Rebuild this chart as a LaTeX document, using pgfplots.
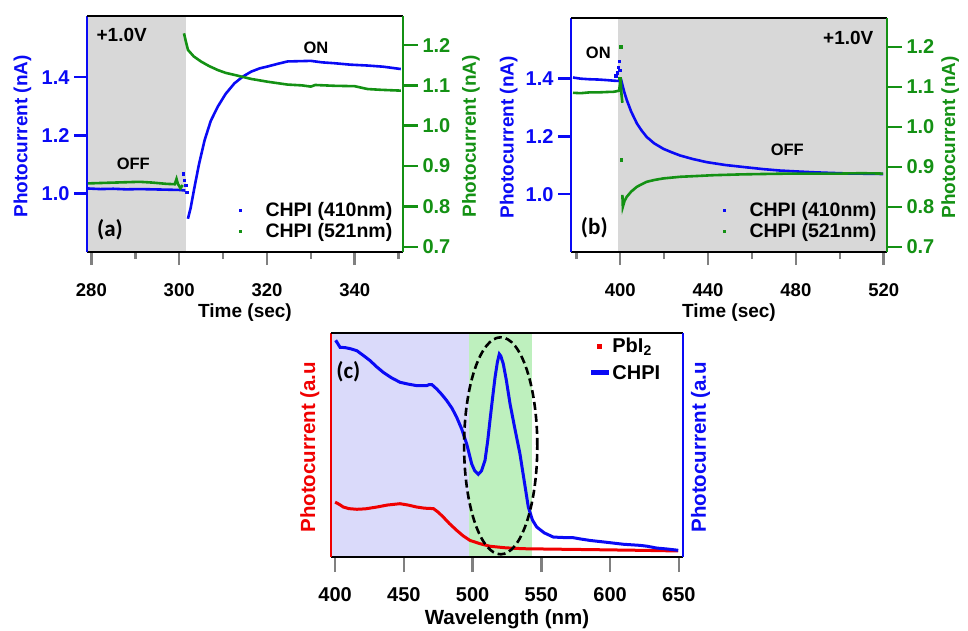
\documentclass[border=0pt]{standalone}
\usepackage{fontspec}
\setmainfont{Liberation Sans}
\newfontfamily\calib{Carlito}
\usepackage{pgfplots}
\pgfplotsset{compat=1.18}

\definecolor{cblue}{RGB}{10,10,245}
\definecolor{cgreen}{RGB}{20,145,20}
\definecolor{cred}{RGB}{240,0,0}
\definecolor{shgray}{RGB}{216,216,216}
\definecolor{shlav}{RGB}{218,218,250}
\definecolor{shgreen}{RGB}{190,240,190}

\newcommand{\fs}[1]{\bfseries\fontsize{#1}{#1}\selectfont}

\pgfplotsset{
  base/.style={scale only axis, anchor=south west, axis on top,
    tick align=outside, major tick length=13pt, minor tick length=7pt,
    axis line style={line width=2.5pt}, tick style={line width=2.5pt},
    /pgf/number format/assume math mode=true,
    xticklabel style={font=\fs{18.5}}, yticklabel style={font=\fs{20}},
    xticklabel shift=15pt, yticklabel shift=1pt,
    every axis x label/.style={at={(axis description cs:0.5,-0.258)}, anchor=center, font=\fs{19}},
  },
  ylab/.style={every axis y label/.style={at={(axis description cs:#1,0.49)}, rotate=90, anchor=center, font=\fs{19}}},
  dec/.style={/pgf/number format/.cd, fixed, fixed zerofill, precision=1},
  sq/.style={legend image code/.code={\fill[#1, draw=none] (-1.4pt,-1.4pt) rectangle (1.4pt,1.4pt); \path[draw=none, fill=none] (0,0) -- (24pt,0);}},
  curve/.style={no markers, line width=2.6pt, forget plot},
  dots/.style={only marks, mark=square*, mark size=1.2pt, forget plot},
  leg/.style={legend style={draw=none, fill=none, at={(rel axis cs:0.97,0.05)}, anchor=south east,
    inner sep=0pt, row sep=3pt, font=\fs{19.5}, nodes={inner sep=1pt}}, legend cell align=left},
}

\begin{document}
\begin{tikzpicture}
\path[use as bounding box] (0,0) rectangle (968pt,630pt);

% ---------------- (a)
\begin{axis}[base, at={(87pt,378pt)}, width=316pt, height=236pt,
  xmin=279, xmax=351, ymin=0.80, ymax=1.61,
  axis x line*=bottom, axis y line*=left,
  x axis line style={black}, y axis line style={cblue},
  xtick={280,300,320,340}, minor xtick={290,310,330,350},
  ytick={1.0,1.2,1.4}, y tick style={cblue},
  yticklabel style={text=cblue, dec},
  xlabel={Time (sec)}, ylabel={Photocurrent (nA)}, ylab=-0.204, ylabel style={text=cblue}]
  \fill[shgray] (axis cs:279,0.80) rectangle (axis cs:301.6,1.61);
  \addplot[curve, cblue] coordinates {
    (279.2,1.018) (282,1.016) (285,1.017) (288,1.015) (291,1.016) (294,1.015)
    (297,1.014) (300,1.013) (301.4,1.011)};
  \addplot[dots, cblue] coordinates {(300.9,1.069) (301.1,1.046) (301.5,1.030) (301.7,1.005)};
  \addplot[curve, cblue] coordinates {
    (302.0,0.914) (302.6,0.950) (303.5,1.023) (304.5,1.100) (305.8,1.184) (307.2,1.250)
    (308.8,1.299) (310.6,1.343) (312.6,1.379) (314.5,1.402) (316.4,1.419) (318.3,1.430)
    (320.2,1.437) (322.5,1.446) (324.7,1.454) (327.3,1.455) (330.0,1.456) (332.5,1.451)
    (335.3,1.448) (339,1.443) (342.9,1.440) (346.5,1.436) (350.5,1.428)};
\end{axis}
\begin{axis}[base, at={(87pt,378pt)}, width=316pt, height=236pt,
  xmin=279, xmax=351, ymin=0.687, ymax=1.272,
  axis x line*=top, xtick=\empty, axis y line*=right,
  x axis line style={black}, y axis line style={cgreen},
  ytick={0.7,0.8,0.9,1.0,1.1,1.2}, y tick style={cgreen}, major tick length=15pt,
  yticklabel style={text=cgreen, dec},
  ylabel={Photocurrent (nA)}, ylab=1.215, ylabel style={text=cgreen}, leg]
  \addplot[curve, cgreen] coordinates {
    (279.2,0.857) (282,0.858) (285,0.859) (288,0.860) (291,0.861) (294,0.859)
    (297,0.856) (299,0.855) (299.4,0.868) (299.7,0.856) (300.3,0.845) (300.8,0.853)};
  \addplot[curve, cgreen] coordinates {
    (301.1,1.229) (301.5,1.210) (302.0,1.188) (303.3,1.172) (305.0,1.159) (306.8,1.148)
    (308.8,1.138) (310.6,1.131) (312.6,1.126) (314.5,1.121) (316.4,1.116) (320.2,1.109)
    (324.7,1.102) (328,1.100) (330,1.097) (331,1.101) (335.3,1.099) (340,1.098)
    (342.9,1.091) (346,1.089) (350.5,1.087)};
  \addlegendimage{sq=cblue}
  \addlegendentry{CHPI (410nm)}
  \addlegendimage{sq=cgreen}
  \addlegendentry{CHPI (521nm)}
\end{axis}

% ---------------- (b)
\begin{axis}[base, at={(571pt,378pt)}, width=316pt, height=234pt,
  xmin=377.6, xmax=521.5, ymin=0.80, ymax=1.61,
  axis x line*=bottom, axis y line*=left,
  x axis line style={black}, y axis line style={cblue},
  xtick={400,440,480,520}, minor xtick={380,420,460,500},
  ytick={1.0,1.2,1.4}, y tick style={cblue},
  yticklabel style={text=cblue, dec},
  xlabel={Time (sec)}, ylabel={Photocurrent (nA)}, ylab=-0.197, ylabel style={text=cblue}]
  \fill[shgray] (axis cs:399.2,0.80) rectangle (axis cs:521.5,1.61);
  \addplot[curve, cblue] coordinates {
    (378.5,1.404) (382,1.400) (386,1.398) (390,1.397) (394,1.395) (397,1.393) (399.5,1.392)};
  \addplot[dots, cblue] coordinates {(398,1.41) (398.5,1.42) (399,1.44) (399.5,1.46) (399.8,1.43)};
  \addplot[curve, cblue] coordinates {
    (400.3,1.400) (400.8,1.385) (401.8,1.355) (403,1.326) (405,1.286) (407.6,1.245)
    (409.8,1.220) (412.1,1.198) (415.5,1.176) (419.7,1.157) (423.5,1.145) (427.3,1.134)
    (433,1.122) (439.4,1.111) (448,1.101) (457.6,1.093) (465,1.087) (472.7,1.082)
    (480,1.079) (487.9,1.076) (495,1.074) (503,1.072) (511,1.071) (519.7,1.070)};
\end{axis}
\begin{axis}[base, at={(571pt,378pt)}, width=316pt, height=234pt,
  xmin=377.6, xmax=521.5, ymin=0.687, ymax=1.272,
  axis x line*=top, xtick=\empty, axis y line*=right,
  x axis line style={black}, y axis line style={cgreen},
  ytick={0.7,0.8,0.9,1.0,1.1,1.2}, y tick style={cgreen}, major tick length=15pt,
  yticklabel style={text=cgreen, dec},
  ylabel={Photocurrent (nA)}, ylab=1.20, ylabel style={text=cgreen}, leg]
  \addplot[curve, cgreen] coordinates {
    (378.5,1.085) (382,1.084) (386,1.086) (390,1.086) (394,1.087) (397,1.0875)
    (399.5,1.090) (400.2,1.12) (400.6,1.08) (401,1.06)};
  \addplot[dots, cgreen] coordinates {(400.3,1.20) (400.5,0.918) (399.8,1.121)};
  \addplot[curve, cgreen] coordinates {
    (401.0,0.830) (401.2,0.800) (402,0.815) (403,0.825) (405,0.838) (407.6,0.850)
    (410,0.857) (412.1,0.8625) (415.5,0.867) (419.7,0.871) (427.3,0.875) (435,0.877)
    (442.4,0.879) (455,0.881) (465.2,0.882) (477,0.883) (487.9,0.883) (500,0.883)
    (510,0.884) (519.7,0.883)};
  \addlegendimage{sq=cblue}
  \addlegendentry{CHPI (410nm)}
  \addlegendimage{sq=cgreen}
  \addlegendentry{CHPI (521nm)}
\end{axis}

% ---------------- (c)
\begin{axis}[base, at={(331pt,73pt)}, width=352pt, height=224pt,
  xmin=397, xmax=653, ymin=0, ymax=1,
  axis x line*=bottom, axis y line*=left,
  x axis line style={black}, y axis line style={cred},
  major tick length=15pt,
  xtick={400,450,500,550,600,650}, ytick=\empty,
  xticklabel style={font=\fs{20}}, xticklabel shift=12pt,
  every axis x label/.style={at={(axis description cs:0.5,-0.28)}, anchor=center, font=\fs{20.5}},
  xlabel={Wavelength (nm)}, ylabel={Photocurrent (a.u}, ylab=-0.06,
  ylabel style={text=cred, font=\fs{20.5}}]
  \fill[shlav] (axis cs:397,0) rectangle (axis cs:497,1);
  \fill[shgreen] (axis cs:497,0) rectangle (axis cs:543.4,1);
  \addplot[no markers, line width=3pt, cred, forget plot] coordinates {
    (400,0.245) (403,0.235) (406,0.223) (410,0.216) (415.8,0.213) (422,0.215)
    (430.3,0.223) (438,0.232) (447.2,0.238) (453,0.232) (459.4,0.223) (465,0.218)
    (471.5,0.216) (475,0.200) (478.7,0.178) (483,0.150) (488.4,0.119) (493,0.095)
    (498.1,0.074) (505,0.060) (512.6,0.048) (524,0.041) (536.8,0.037) (560,0.035)
    (585.3,0.033) (620,0.030) (649.5,0.027)};
\end{axis}
\begin{axis}[base, at={(331pt,73pt)}, width=352pt, height=224pt,
  xmin=397, xmax=653, ymin=0, ymax=1,
  axis x line*=top, xtick=\empty, axis y line*=right, ytick=\empty,
  x axis line style={black}, y axis line style={cblue},
  ylabel={Photocurrent (a.u}, ylab=1.05, ylabel style={text=cblue, font=\fs{20.5}},
  legend style={draw=none, fill=none, at={(rel axis cs:0.94,0.985)}, anchor=north east,
    inner sep=0pt, row sep=8pt, font=\fs{20}, nodes={inner sep=1.5pt}},
  legend cell align=left]
  \addplot[no markers, line width=3pt, cblue, forget plot] coordinates {
    (400,0.958) (401,0.962) (403.6,0.936) (407,0.935) (411,0.930) (415.8,0.921)
    (420,0.902) (425.4,0.877) (430,0.850) (435.1,0.824) (441,0.800) (447.2,0.780)
    (453,0.772) (459.4,0.765) (466.6,0.765) (468.5,0.770) (470.3,0.770) (473.9,0.750)
    (477.5,0.726) (481.2,0.698) (485,0.664) (488.4,0.624) (492,0.572) (495.7,0.505)
    (497.5,0.460) (499.3,0.416) (501.5,0.385) (504.1,0.369) (506.5,0.385) (509,0.431)
    (511,0.520) (512.6,0.609) (514.5,0.710) (516.3,0.802) (518,0.870) (519.4,0.906)
    (520.5,0.897) (522.3,0.862) (524.5,0.790) (527.2,0.684) (530.5,0.580) (534.4,0.461)
    (537.5,0.340) (540.5,0.223) (543.5,0.165) (546.6,0.134) (552,0.108) (558.7,0.089)
    (566,0.087) (573.3,0.086) (579,0.080) (585.3,0.074) (597,0.066) (609.5,0.057)
    (621.7,0.052) (627,0.048) (633.8,0.040) (641,0.036) (649.5,0.030)};
  \addlegendimage{legend image code/.code={\fill[cred, draw=none] (6.5pt,-2.5pt) rectangle (11.5pt,2.5pt); \path[draw=none, fill=none] (0,0) -- (20pt,0);}}
  \addlegendentry{PbI\textsubscript{2}}
  \addlegendimage{legend image code/.code={\fill[cblue, draw=none] (0,-2.5pt) rectangle (18pt,2.5pt); \path[draw=none, fill=none] (0,0) -- (20pt,0);}}
  \addlegendentry{CHPI}
\end{axis}

% ellipse marking the CHPI band
\draw[black, line width=2.6pt, dash pattern=on 8pt off 4pt] (500.7pt,184.2pt) ellipse [x radius=36.6pt, y radius=108.5pt];

% annotations
\node at (121.7pt,595pt) {\fs{19}+1.0V};
\node at (133.3pt,466pt) {\fs{16.5}OFF};
\node at (316pt,581.7pt) {\fs{16.5}ON};
\node at (110pt,400pt) {\calib\fs{23}(a)};
\node at (598.3pt,576.7pt) {\fs{16.5}ON};
\node at (848.3pt,591.7pt) {\fs{19}+1.0V};
\node at (787.3pt,480pt) {\fs{16.5}OFF};
\node at (594.3pt,402pt) {\calib\fs{23}(b)};
\node at (348.3pt,258.3pt) {\calib\fs{23}(c)};
\end{tikzpicture}
\end{document}
